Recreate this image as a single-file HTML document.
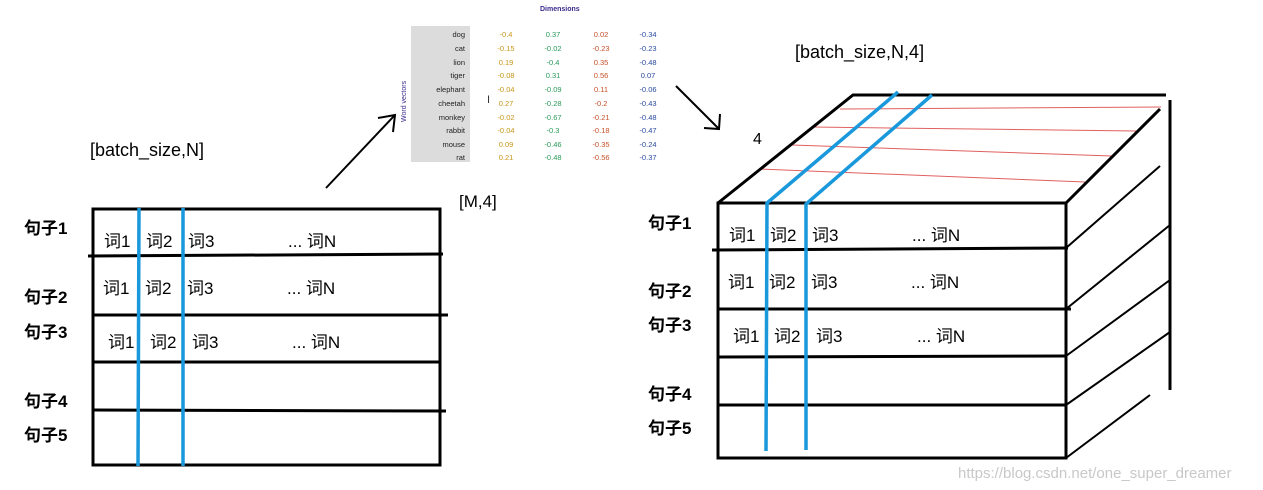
<!DOCTYPE html>
<html><head><meta charset="utf-8"><style>
html,body{margin:0;padding:0;background:#fff;}
svg{display:block}
.cn{font-family:"Liberation Sans","Noto Sans CJK SC",sans-serif;}
</style></head><body>
<svg width="1263" height="490" viewBox="0 0 1263 490" xmlns="http://www.w3.org/2000/svg" class="cn">
<!-- left box -->
<g stroke="#000" stroke-width="3" fill="none">
<rect x="93" y="209" width="347" height="256"/>
<line x1="88" y1="256" x2="443" y2="254"/>
<line x1="93" y1="315" x2="448" y2="315"/>
<line x1="93" y1="362" x2="440" y2="362"/>
<line x1="93" y1="410" x2="446" y2="411"/>
</g>
<g stroke="#1a98dc" stroke-width="3.5">
<line x1="139" y1="208" x2="138" y2="466"/>
<line x1="183" y1="208" x2="183" y2="466"/>
</g>
<g font-size="17" font-weight="bold" fill="#000">
<text x="24" y="234">句子1</text>
<text x="24" y="303">句子2</text>
<text x="24" y="338">句子3</text>
<text x="24" y="407">句子4</text>
<text x="24" y="441">句子5</text>
</g>
<g font-size="17" fill="#000">
<text x="104" y="247">词1</text><text x="146" y="247">词2</text><text x="188" y="247">词3</text><text x="288" y="247">... 词N</text>
<text x="103" y="294">词1</text><text x="145" y="294">词2</text><text x="187" y="294">词3</text><text x="287" y="294">... 词N</text>
<text x="108" y="348">词1</text><text x="150" y="348">词2</text><text x="192" y="348">词3</text><text x="292" y="348">... 词N</text>
</g>
<text x="90" y="156" font-size="18" fill="#000">[batch_size,N]</text>
<text x="459" y="207" font-size="17" fill="#000">[M,4]</text>
<text x="795" y="58" font-size="18" fill="#000">[batch_size,N,4]</text>
<text x="753" y="144" font-size="16" fill="#000">4</text>
<!-- arrows -->
<g stroke="#000" stroke-width="2" fill="none">
<line x1="326" y1="188" x2="394" y2="116"/>
<polyline points="378,118 395,115 393,132"/>
<line x1="676" y1="86" x2="718" y2="128"/>
<polyline points="704,128 719,129 720,114"/>
</g>
<!-- table -->
<rect x="411" y="26" width="59" height="136" fill="#dcdcdc"/>
<text x="540" y="11" font-size="7" fill="#3a2a8c" font-weight="bold">Dimensions</text>
<text transform="translate(406,122) rotate(-90)" font-size="7" fill="#3a2a8c">Word vectors</text>
<g font-size="7.5">
<g text-anchor="end" fill="#222">
<text x="465" y="37">dog</text><text x="465" y="51">cat</text><text x="465" y="65">lion</text><text x="465" y="78">tiger</text><text x="465" y="92">elephant</text><text x="465" y="106">cheetah</text><text x="465" y="120">monkey</text><text x="465" y="133">rabbit</text><text x="465" y="147">mouse</text><text x="465" y="160">rat</text>
</g>
<g fill="#c8961a" text-anchor="middle">
<text x="506" y="37">-0.4</text><text x="506" y="51">-0.15</text><text x="506" y="65">0.19</text><text x="506" y="78">-0.08</text><text x="506" y="92">-0.04</text><text x="506" y="106">0.27</text><text x="506" y="120">-0.02</text><text x="506" y="133">-0.04</text><text x="506" y="147">0.09</text><text x="506" y="160">0.21</text>
</g>
<g fill="#2a9a5a" text-anchor="middle">
<text x="553" y="37">0.37</text><text x="553" y="51">-0.02</text><text x="553" y="65">-0.4</text><text x="553" y="78">0.31</text><text x="553" y="92">-0.09</text><text x="553" y="106">-0.28</text><text x="553" y="120">-0.67</text><text x="553" y="133">-0.3</text><text x="553" y="147">-0.46</text><text x="553" y="160">-0.48</text>
</g>
<g fill="#c8502a" text-anchor="middle">
<text x="601" y="37">0.02</text><text x="601" y="51">-0.23</text><text x="601" y="65">0.35</text><text x="601" y="78">0.56</text><text x="601" y="92">0.11</text><text x="601" y="106">-0.2</text><text x="601" y="120">-0.21</text><text x="601" y="133">-0.18</text><text x="601" y="147">-0.35</text><text x="601" y="160">-0.56</text>
</g>
<g fill="#2a4aa0" text-anchor="middle">
<text x="648" y="37">-0.34</text><text x="648" y="51">-0.23</text><text x="648" y="65">-0.48</text><text x="648" y="78">0.07</text><text x="648" y="92">-0.06</text><text x="648" y="106">-0.43</text><text x="648" y="120">-0.48</text><text x="648" y="133">-0.47</text><text x="648" y="147">-0.24</text><text x="648" y="160">-0.37</text>
</g>
</g>
<text x="487" y="103" font-size="11" fill="#333">I</text>
<!-- cube -->
<g stroke="#e06060" stroke-width="1">
<line x1="840" y1="109" x2="1161" y2="107"/>
<line x1="812" y1="127" x2="1136" y2="131"/>
<line x1="792" y1="145" x2="1112" y2="156"/>
<line x1="760" y1="169" x2="1085" y2="182"/>
</g>
<g stroke="#000" stroke-width="3" fill="none">
<rect x="718" y="203" width="348" height="255"/>
<polyline points="718,203 853,95 1166,95"/>
<line x1="1066" y1="203" x2="1160" y2="109"/>
<line x1="1170" y1="100" x2="1170" y2="390"/>
<line x1="712" y1="250" x2="1068" y2="248"/>
<line x1="718" y1="309" x2="1071" y2="309"/>
<line x1="718" y1="357" x2="1066" y2="356"/>
<line x1="718" y1="405" x2="1066" y2="405"/>
</g>
<g stroke="#000" stroke-width="2" fill="none">
<line x1="1066" y1="248" x2="1160" y2="166"/>
<line x1="1066" y1="309" x2="1170" y2="225"/>
<line x1="1066" y1="356" x2="1170" y2="280"/>
<line x1="1066" y1="405" x2="1170" y2="332"/>
<line x1="1066" y1="458" x2="1150" y2="395"/>
</g>
<g stroke="#1a98dc" stroke-width="3.5" fill="none">
<polyline points="766,451 767,203 898,92"/>
<polyline points="806,450 806,204 932,95"/>
</g>
<g font-size="17" font-weight="bold" fill="#000">
<text x="648" y="229">句子1</text>
<text x="648" y="297">句子2</text>
<text x="648" y="331">句子3</text>
<text x="648" y="400">句子4</text>
<text x="648" y="434">句子5</text>
</g>
<g font-size="17" fill="#000">
<text x="729" y="241">词1</text><text x="770" y="241">词2</text><text x="812" y="241">词3</text><text x="912" y="241">... 词N</text>
<text x="728" y="288">词1</text><text x="769" y="288">词2</text><text x="811" y="288">词3</text><text x="911" y="288">... 词N</text>
<text x="733" y="342">词1</text><text x="774" y="342">词2</text><text x="816" y="342">词3</text><text x="917" y="342">... 词N</text>
</g>
<text x="958" y="478" font-size="15" fill="#c8c8c8">https://blog.csdn.net/one_super_dreamer</text>
</svg>
</body></html>
